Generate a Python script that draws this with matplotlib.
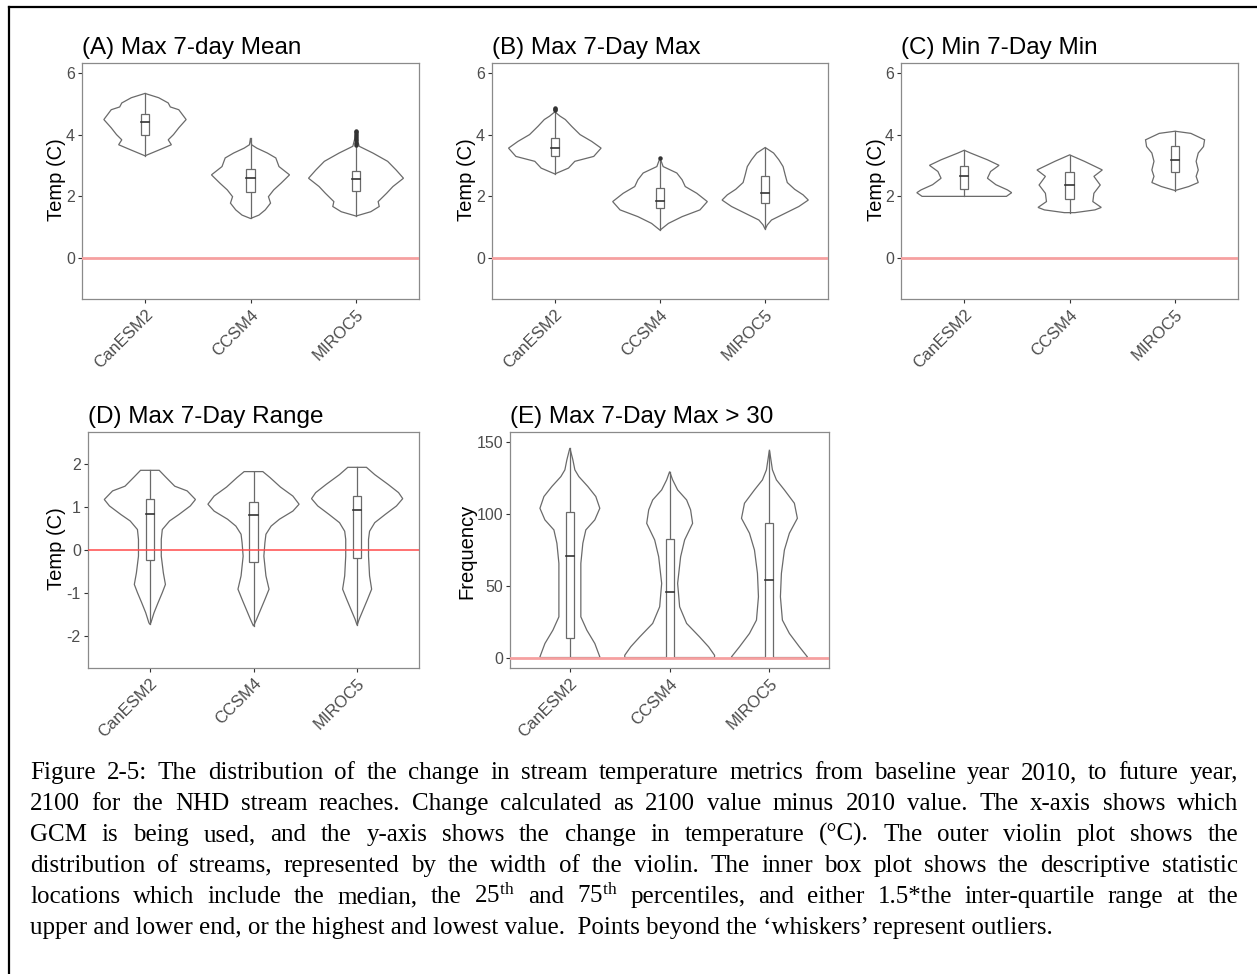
import matplotlib
matplotlib.use("Agg")
import matplotlib.pyplot as plt
from matplotlib.patches import Rectangle
from matplotlib.lines import Line2D

plt.rcParams['font.family'] = ['Liberation Sans', 'DejaVu Sans']
plt.rcParams['mathtext.fontset'] = 'custom'
plt.rcParams['mathtext.rm'] = 'Liberation Serif'
plt.rcParams['mathtext.it'] = 'Liberation Serif:italic'
plt.rcParams['axes.unicode_minus'] = False

W, H = 1257, 974
gcms = ["CanESM2", "CCSM4", "MIROC5"]

# ---- violin profiles: y values (top -> bottom) and half widths (category units)
# (A) Max 7-day Mean
a_can_y = [5.35, 5.21, 5.04, 4.91, 4.82, 4.50, 4.23, 4.01, 3.84, 3.68, 3.52, 3.32]
a_can_w = [0, .13, .22, .24, .32, .39, .32, .27, .22, .25, .14, 0]
a_ccs_y = [3.90, 3.68, 3.57, 3.41, 3.25, 2.97, 2.70, 2.43, 2.21, 1.99, 1.78, 1.56, 1.39, 1.28]
a_ccs_w = [0, .01, .06, .16, .24, .27, .37, .29, .22, .17, .19, .14, .08, 0]
a_mir_y = [4.15, 3.90, 3.63, 3.41, 3.14, 2.86, 2.59, 2.32, 2.10, 1.83, 1.67, 1.50, 1.36]
a_mir_w = [0, .01, .03, .16, .30, .38, .45, .35, .29, .21, .22, .14, 0]
# (B) Max 7-Day Max
b_can_y = [4.75, 4.61, 4.50, 4.28, 4.01, 3.79, 3.57, 3.30, 3.14, 2.92, 2.73]
b_can_w = [0, .05, .10, .16, .24, .35, .44, .37, .19, .13, 0]
b_ccs_y = [3.25, 2.97, 2.76, 2.54, 2.32, 2.10, 1.83, 1.56, 1.34, 1.12, 0.90]
b_ccs_w = [0, .03, .16, .21, .24, .35, .45, .38, .21, .08, 0]
b_mir_y = [3.59, 3.41, 3.19, 2.97, 2.70, 2.45, 2.23, 2.05, 1.88, 1.67, 1.45, 1.23, 1.07, 0.93]
b_mir_w = [0, .08, .13, .17, .19, .21, .28, .36, .41, .32, .19, .06, .02, 0]
# (C) Min 7-Day Min
c_can_y = [3.50, 3.41, 3.19, 3.01, 2.81, 2.59, 2.38, 2.21, 2.12, 2.00]
c_can_w = [0, .06, .22, .33, .25, .22, .30, .41, .45, .40]
c_ccs_y = [3.35, 3.14, 2.86, 2.65, 2.37, 2.10, 1.83, 1.64, 1.56, 1.47]
c_ccs_w = [0, .14, .31, .23, .29, .23, .22, .30, .24, .05]
c_mir_y = [4.12, 4.05, 3.84, 3.62, 3.41, 3.14, 2.86, 2.65, 2.45, 2.32, 2.19]
c_mir_w = [0, .15, .28, .27, .22, .20, .22, .20, .22, .13, 0]
# (D) Max 7-Day Range
d_can_y = [1.85, 1.70, 1.48, 1.37, 1.17, 1.02, 0.82, 0.67, 0.47, 0.24, -0.15, -0.54, -0.81, -1.00, -1.23, -1.47, -1.70, -1.74]
d_can_w = [.09, .15, .24, .36, .44, .39, .28, .19, .12, .11, .11, .13, .15, .12, .08, .04, .01, 0]
d_ccs_y = [1.82, 1.68, 1.46, 1.25, 1.06, 0.90, 0.71, 0.55, 0.36, 0.16, -0.15, -0.61, -0.92, -1.16, -1.39, -1.62, -1.78]
d_ccs_w = [.09, .16, .26, .38, .44, .38, .25, .17, .12, .11, .10, .12, .15, .11, .07, .03, 0]
d_mir_y = [1.92, 1.75, 1.52, 1.33, 1.19, 1.02, 0.82, 0.63, 0.43, 0.24, -0.15, -0.61, -0.92, -1.16, -1.39, -1.62, -1.76]
d_mir_w = [.09, .17, .30, .40, .44, .38, .27, .17, .12, .11, .11, .12, .14, .10, .06, .02, 0]
# (E) Max 7-Day Max > 30
e_can_y = [146.1, 137.9, 130.9, 126.2, 119.3, 112.3, 104.1, 96.0, 89.0, 79.7, 65.7, 47.1, 28.4, 19.1, 9.8, 0.5, 0]
e_can_w = [0, .03, .05, .09, .18, .26, .30, .25, .16, .13, .11, .11, .11, .17, .25, .30, .30]
e_ccs_y = [129.7, 123.9, 116.9, 109.9, 103.0, 93.6, 82.0, 70.3, 51.7, 35.4, 23.8, 14.4, 7.5, 1.6, 0]
e_ccs_w = [0, .03, .08, .17, .21, .23, .15, .11, .08, .10, .17, .30, .39, .45, .45]
e_mir_y = [144.9, 130.9, 123.9, 116.9, 107.6, 97.1, 86.7, 75.0, 58.7, 42.4, 26.1, 16.8, 7.5, 0.5, 0]
e_mir_w = [0, .03, .07, .15, .25, .28, .20, .15, .12, .11, .13, .20, .30, .38, .38]

# ---- box stats: [low whisker, q1, median, q3, high whisker]
a_box = [[3.32, 4.01, 4.41, 4.69, 5.35], [1.28, 2.15, 2.59, 2.89, 3.90], [1.36, 2.19, 2.56, 2.81, 3.62]]
b_box = [[2.73, 3.30, 3.57, 3.90, 4.75], [0.90, 1.61, 1.85, 2.27, 3.20], [0.93, 1.80, 2.10, 2.67, 3.59]]
c_box = [[2.00, 2.23, 2.67, 2.99, 3.50], [1.47, 1.92, 2.37, 2.79, 3.35], [2.19, 2.79, 3.19, 3.65, 4.12]]
d_box = [[-1.72, -0.24, 0.84, 1.17, 1.85], [-1.78, -0.29, 0.81, 1.12, 1.82], [-1.76, -0.20, 0.92, 1.25, 1.92]]
e_box = [[0, 13.7, 71.0, 101.8, 146.0], [0, 0, 45.9, 82.7, 129.7], [0, 0, 53.8, 94.1, 144.0]]
# outliers
a_out = [[], [], [3.68, 3.75, 3.82, 3.90, 3.97, 4.03, 4.08, 4.13]]
b_out = [[4.80, 4.85, 4.88], [3.25], []]

temp_ticks = [0, 2, 4, 6]
range_ticks = [-2, -1, 0, 1, 2]
freq_ticks = [0, 50, 100, 150]

panels = [
    dict(title="(A) Max 7-day Mean", ylabel="Temp (C)", box=(81.7, 62.7, 419.3, 299.3),
         ylim=(-1.35, 6.35), ticks=temp_ticks, vy=[a_can_y, a_ccs_y, a_mir_y],
         vw=[a_can_w, a_ccs_w, a_mir_w], stats=a_box, out=a_out, lab=(57, 180), tb=54, zero="pink"),
    dict(title="(B) Max 7-Day Max", ylabel="Temp (C)", box=(491.7, 62.7, 828.3, 299.3),
         ylim=(-1.35, 6.35), ticks=temp_ticks, vy=[b_can_y, b_ccs_y, b_mir_y],
         vw=[b_can_w, b_ccs_w, b_mir_w], stats=b_box, out=b_out, lab=(466, 180), tb=54, zero="pink"),
    dict(title="(C) Min 7-Day Min", ylabel="Temp (C)", box=(901.0, 62.7, 1238.3, 299.3),
         ylim=(-1.35, 6.35), ticks=temp_ticks, vy=[c_can_y, c_ccs_y, c_mir_y],
         vw=[c_can_w, c_ccs_w, c_mir_w], stats=c_box, out=None, lab=(876, 180), tb=54, zero="pink"),
    dict(title="(D) Max 7-Day Range", ylabel="Temp (C)", box=(87.7, 431.7, 419.3, 667.7),
         ylim=(-2.75, 2.75), ticks=range_ticks, vy=[d_can_y, d_ccs_y, d_mir_y],
         vw=[d_can_w, d_ccs_w, d_mir_w], stats=d_box, out=None, lab=(57, 549), tb=423, zero="red"),
    dict(title="(E) Max 7-Day Max > 30", ylabel="Frequency", box=(510.0, 431.7, 829.3, 668.3),
         ylim=(-7.5, 157.5), ticks=freq_ticks, vy=[e_can_y, e_ccs_y, e_mir_y],
         vw=[e_can_w, e_ccs_w, e_mir_w], stats=e_box, out=None, lab=(467, 551), tb=423, zero="pink"),
]

fig = plt.figure(figsize=(W / 100, H / 100), dpi=100)
fig.patch.set_facecolor("white")

vcol = "#6a6a6a"
for p in panels:
    x0, y0, x1, y1 = p["box"]
    ax = fig.add_axes([x0 / W, 1 - y1 / H, (x1 - x0) / W, (y1 - y0) / H])
    for i in range(3):
        c = i + 1
        ys = p["vy"][i]
        ws = p["vw"][i]
        xs = [c + w for w in ws] + [c - w for w in ws[::-1]]
        yy = list(ys) + list(ys[::-1])
        ax.fill(xs, yy, facecolor="white", edgecolor=vcol, lw=0.9, zorder=2)
        lo, q1, med, q3, hi = p["stats"][i]
        bw = 0.04
        ax.plot([c, c], [lo, q1], color=vcol, lw=0.9, zorder=3)
        ax.plot([c, c], [q3, hi], color=vcol, lw=0.9, zorder=3)
        ax.add_patch(Rectangle((c - bw, q1), 2 * bw, q3 - q1, facecolor="white",
                               edgecolor=vcol, lw=0.9, zorder=4))
        ax.plot([c - bw, c + bw], [med, med], color="#333333", lw=1.2, zorder=5)
        if p["out"] and p["out"][i]:
            ax.plot([c] * len(p["out"][i]), p["out"][i], "o", ms=2.2, color="#333333", zorder=5)
    if p["zero"] == "red":
        ax.axhline(0, color="#ff4a4a", lw=1.1, zorder=6)
    else:
        ax.axhline(0, color="#f6a0a0", lw=2.0, zorder=6)
    ax.set_xlim(0.4, 3.6)
    ax.set_ylim(*p["ylim"])
    ax.set_yticks(p["ticks"])
    ax.set_xticks([1, 2, 3])
    ax.set_xticklabels(gcms, rotation=45, ha="right", va="top", rotation_mode="anchor")
    ax.tick_params(axis="both", colors="#333333", labelcolor="#4d4d4d", length=3, width=0.8,
                   labelsize=11.5, pad=2)
    ax.tick_params(axis="x", labelsize=12, pad=2.5)
    for s in ax.spines.values():
        s.set_color("#8a8a8a")
        s.set_linewidth(0.9)
    fig.text(x0 / W, 1 - p["tb"] / H, p["title"], fontsize=17.5, ha="left", va="baseline")
    fig.text(p["lab"][0] / W, 1 - p["lab"][1] / H, p["ylabel"], fontsize=14.5, rotation=90,
             ha="center", va="center")

# outer frame (left and top edges)
fig.add_artist(Line2D([9 / W, 9 / W], [0, 1 - 7 / H], color="black", lw=1.6))
fig.add_artist(Line2D([9 / W, 1], [1 - 7 / H, 1 - 7 / H], color="black", lw=1.6))

# caption, fully justified
cap_lines = [
    "Figure 2-5: The distribution of the change in stream temperature metrics from baseline year 2010, to future year,",
    "2100 for the NHD stream reaches.  Change calculated as 2100 value minus 2010 value.  The x-axis shows which",
    "GCM is being used, and the y-axis shows the change in temperature (\u00b0C).  The outer violin plot shows the",
    "distribution of streams, represented by the width of the violin.  The inner box plot shows the descriptive statistic",
    "locations which include the median, the 25$^{\\mathrm{th}}$ and 75$^{\\mathrm{th}}$ percentiles, and either 1.5*the inter-quartile range at the",
    "upper and lower end, or the highest and lowest value.  Points beyond the \u2018whiskers\u2019 represent outliers.",
]
cap_left, cap_right = 30, 1238
cap_base = [779, 810, 841, 872, 903, 934]
rend = fig.canvas.get_renderer()

probe = fig.text(0, 0, cap_lines[-1], fontsize=15, family="Liberation Serif")
pw = probe.get_window_extent(rend).width
probe.remove()
cap_size = 15 * 1028 / pw

for k, line in enumerate(cap_lines):
    yb = 1 - cap_base[k] / H
    if k == len(cap_lines) - 1:
        fig.text(cap_left / W, yb, line, fontsize=cap_size, family="Liberation Serif",
                 ha="left", va="baseline")
        continue
    words = line.split()
    texts = [fig.text(0, yb, w_, fontsize=cap_size, family="Liberation Serif",
                      ha="left", va="baseline") for w_ in words]
    widths = [t.get_window_extent(rend).width for t in texts]
    gap = (cap_right - cap_left - sum(widths)) / (len(words) - 1)
    x = cap_left
    for t, wd in zip(texts, widths):
        t.set_x(x / W)
        x += wd + gap

fig.savefig("out.png", dpi=100)
